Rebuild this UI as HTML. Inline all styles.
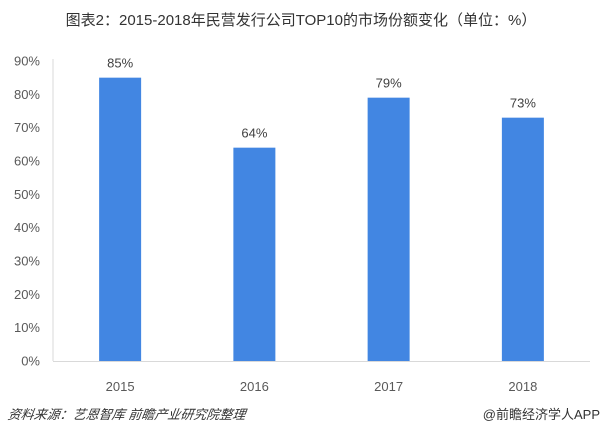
<!DOCTYPE html>
<html><head><meta charset="utf-8">
<style>
body{margin:0;background:#fff;}
#c{position:relative;width:602px;height:432px;overflow:hidden;font-family:"Liberation Sans","Noto Sans CJK SC",sans-serif;}
.title{position:absolute;left:0;top:9px;width:602px;text-align:center;font-size:15px;color:#333;}
.foot{position:absolute;top:404px;font-size:13px;color:#333;}
</style></head><body>
<div id="c">
<div class="title">图表2：2015-2018年民营发行公司TOP10的市场份额变化（单位：%）</div>
<svg id="s" width="602" height="432" style="position:absolute;left:0;top:0"></svg>
<div class="foot" style="left:8px;font-style:italic;transform:skewX(-8deg)">资料来源：艺恩智库 前瞻产业研究院整理</div>
<div class="foot" style="right:2px">@前瞻经济学人APP</div>
</div>
<script>
const categories=["2015","2016","2017","2018"];
const values=[85,64,79,73];
const ticks=[0,10,20,30,40,50,60,70,80,90];
const NS="http://www.w3.org/2000/svg";
const s=document.getElementById('s');
const x0=53,x1=590,y0=361,yTop=61,maxV=90;
const yS=v=>y0-(v/maxV)*(y0-yTop);
const band=(x1-x0)/categories.length;
const xC=i=>x0+band*(i+0.5);
function mk(t,a){const e=document.createElementNS(NS,t);for(const k in a)e.setAttribute(k,a[k]);s.appendChild(e);return e;}
let ax=mk('line',{x1:x0,y1:yTop-2,x2:x0,y2:y0,stroke:'#d9d9d9','stroke-width':1});


let bl=mk('line',{x1:x0,y1:y0+0.5,x2:x1,y2:y0+0.5,stroke:'#d9d9d9','stroke-width':1});


ticks.forEach(t=>{
 const e=mk('text',{x:40,y:yS(t)+4.5,'text-anchor':'end','font-size':13,fill:'#595959'});
 e.textContent=t+'%';
 
 
});
categories.forEach((c,i)=>{
 const v=values[i];
 const r=mk('rect',{x:xC(i)-21,y:yS(v),width:42,height:y0-yS(v),fill:'#4286e2'});
 
 
 const l=mk('text',{x:xC(i),y:yS(v)-10,'text-anchor':'middle','font-size':13,fill:'#404040'});
 l.textContent=v+'%';
 
 
 const xl=mk('text',{x:xC(i),y:391,'text-anchor':'middle','font-size':13,fill:'#595959'});
 xl.textContent=c;
 
 
});
</script>
</body></html>
